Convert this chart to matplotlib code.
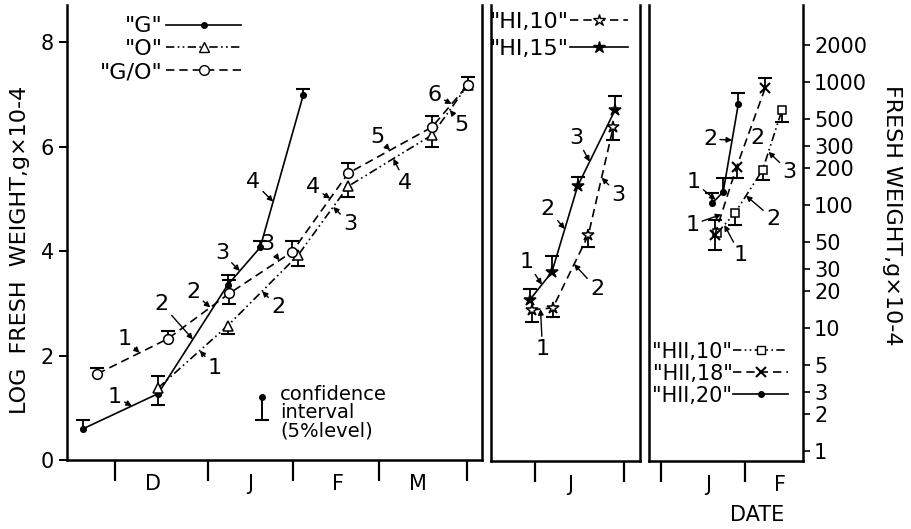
import numpy as np
import matplotlib
matplotlib.use("Agg")
from matplotlib import pyplot as plt
from matplotlib.lines import Line2D
from matplotlib.ticker import NullLocator

# ---- left panel: log fresh weight (linear axis), months counted from 1 Dec
month_bounds = [0, 1.06, 2.02, 3.0, 4.0]
month_label_pos = [0.43, 1.53, 2.53, 3.44]
month_labels = ["D", "J", "F", "M"]

g_x = [-0.36, 0.49, 1.28, 1.65, 2.14]
g_y = [0.60, 1.27, 3.35, 4.07, 6.99]
g_lo = [0.60, 1.06, 3.35, 4.07, 6.99]
g_hi = [0.77, 1.27, 3.55, 4.20, 7.10]

o_x = [0.49, 1.28, 2.08, 2.65, 3.60, 4.01]
o_y = [1.38, 2.57, 3.92, 5.24, 6.22, 7.18]
o_lo = [1.38, 2.42, 3.72, 5.03, 6.00, 7.18]
o_hi = [1.61, 2.57, 3.92, 5.24, 6.22, 7.18]

go_x = [-0.20, 0.60, 1.30, 2.01, 2.65, 3.60, 4.01]
go_y = [1.65, 2.32, 3.19, 3.98, 5.49, 6.37, 7.18]
go_lo = [1.65, 2.32, 2.99, 3.98, 5.49, 6.37, 7.18]
go_hi = [1.77, 2.47, 3.45, 4.20, 5.68, 6.58, 7.33]

# ---- middle panel (HI), months counted from 1 Jan, fresh weight g x 10-4
mid_bounds = [0, 1.0]
mid_label_pos = [0.39]
mid_labels = ["J"]

hi15_x = [-0.06, 0.19, 0.48, 0.90]
hi15_y = [16.8, 28.4, 142, 588]
hi15_lo = [16.8, 28.4, 142, 588]
hi15_hi = [20.7, 38.3, 168, 764]

hi10_x = [-0.03, 0.20, 0.60, 0.88]
hi10_y = [14.0, 14.5, 56.8, 428]
hi10_lo = [11.2, 12.3, 45.4, 338]
hi10_hi = [14.0, 14.5, 56.8, 428]

# ---- right panel (HII)
right_bounds = [0, 1.0]
right_label_pos = [0.56, 1.42]
right_labels = ["J", "F"]

h20_x = [0.61, 0.74, 0.92]
h20_y = [103, 127, 657]
h20_lo = [103, 127, 657]
h20_hi = [124, 165, 808]

h18_x = [0.64, 0.90, 1.24]
h18_y = [56.8, 203, 887]
h18_lo = [43, 164, 887]
h18_hi = [75, 203, 1064]

h10_x = [0.67, 0.88, 1.21, 1.44]
h10_y = [58.9, 85.7, 192, 588]
h10_lo = [58.9, 69, 159, 470]
h10_hi = [58.9, 85.7, 192, 588]

log_ticks = [1, 2, 3, 5, 10, 20, 30, 50, 100, 200, 300, 500, 1000, 2000]

# segment number labels: (segment, fraction along it, text dx, text dy in px, arrow)
g_marks = [(1, 0.65, -17, -11, True), (2, 0.5, -31, -37, True),
           (3, 0.375, -18, -20, True), (4, 0.3, -20, -22, True)]
go_marks = [(1, 0.6, -15, -16, True), (2, 0.69, -17, -17, True),
            (3, 0.8, -12, -18, True), (4, 0.68, -17, -13, True),
            (5, 0.5, -13, -15, True), (6, 0.55, -17, -11, True)]
o_marks = [(1, 0.6, 15, 15, True), (2, 0.49, 16, 14, True),
           (3, 0.7, 17, 15, True), (4, 0.54, 12, 22, True),
           (5, 0.5, 12, 13, True)]
hi15_marks = [(1, 0.55, -15, -25, True), (2, 0.5, -17, -22, True),
              (3, 0.32, -13, -26, True)]
hi10_marks = [(1, 0.4, 2, 38, True), (2, 0.6, 23, 23, True),
              (3, 0.53, 17, 15, True)]
h20_marks = [(1, 0.3, -22, -20, True), (2, 0.59, -22, -3, True)]
h18_marks = [(1, 0.3, -29, 8, True), (2, 0.45, 8, 5, False)]
h10_marks = [(1, 0.4, 16, 28, True), (2, 0.4, 27, 21, True),
             (3, 0.3, 21, 18, True)]

PX = 0.72  # points per pixel at dpi 100


def draw_series(ax, x, y, lo, hi, ls, marker, ms, filled, lw=1.2, mew=1.1):
    x = np.array(x); y = np.array(y); lo = np.array(lo); hi = np.array(hi)
    ax.vlines(x, lo, hi, colors="k", lw=1.3, zorder=2)
    up = hi > y
    dn = lo < y
    ax.plot(x[up], hi[up], ls="none", marker="_", ms=10, mew=1.5, color="k", zorder=2)
    ax.plot(x[dn], lo[dn], ls="none", marker="_", ms=10, mew=1.5, color="k", zorder=2)
    ax.plot(x, y, color="k", ls=ls, lw=lw, marker=marker, ms=ms,
            mfc="k" if filled else "white", mec="k", mew=mew, zorder=3)


def label_segments(ax, xs, ys, marks, log=False, size=16):
    for seg, t, dx, dy, arrow in marks:
        x0, x1 = xs[seg - 1], xs[seg]
        y0, y1 = ys[seg - 1], ys[seg]
        x = x0 + t * (x1 - x0)
        if log:
            y = 10 ** (np.log10(y0) + t * (np.log10(y1) - np.log10(y0)))
        else:
            y = y0 + t * (y1 - y0)
        props = None
        if arrow:
            props = dict(arrowstyle="-|>", color="k", lw=1.0,
                         mutation_scale=8, shrinkA=0, shrinkB=0)
        ax.annotate(str(seg), (x, y), xytext=(dx * PX, -dy * PX),
                    textcoords="offset points", ha="center",
                    va="center_baseline", fontsize=size, arrowprops=props)


def month_axis(ax, bounds, pos, labels):
    ax.set_xticks(bounds, [""] * len(bounds))
    ax.set_xticks(pos, labels, minor=True)
    ax.tick_params(axis="x", which="major", direction="out", length=15, width=1.6)
    ax.tick_params(axis="x", which="minor", length=0, pad=10, labelsize=15)
    for side in ["left", "right", "bottom"]:
        ax.spines[side].set_linewidth(1.8)
    ax.spines["top"].set_visible(False)


fig = plt.figure(figsize=(9.11, 5.29), dpi=100)
ax1 = fig.add_axes([67 / 911, 69 / 529, 415 / 911, 455 / 529])
ax2 = fig.add_axes([491 / 911, 68 / 529, 149 / 911, 456 / 529])
ax3 = fig.add_axes([649 / 911, 68 / 529, 154 / 911, 456 / 529])

dash = (0, (5, 3))
dash_dot2 = (0, (5, 2, 1, 2, 1, 2))

# left panel
draw_series(ax1, g_x, g_y, g_lo, g_hi, "-", "o", 4, True)
draw_series(ax1, o_x, o_y, o_lo, o_hi, dash_dot2, "^", 7, False)
draw_series(ax1, go_x, go_y, go_lo, go_hi, dash, "o", 7, False)
label_segments(ax1, g_x, g_y, g_marks)
label_segments(ax1, go_x, go_y, go_marks)
label_segments(ax1, o_x, o_y, o_marks)
ax1.set_xlim(-0.545, 4.17)
ax1.set_ylim(0, 8.71)
ax1.set_yticks([0, 2, 4, 6, 8])
ax1.tick_params(axis="y", direction="out", length=6, width=1.4, labelsize=15)
month_axis(ax1, month_bounds, month_label_pos, month_labels)

h_g = Line2D([], [], color="k", lw=1.2, marker="o", ms=4)
h_o = Line2D([], [], color="k", lw=1.2, ls=dash_dot2, marker="^", ms=7, mfc="white")
h_go = Line2D([], [], color="k", lw=1.2, ls=dash, marker="o", ms=7, mfc="white")
ax1.legend([h_g, h_o, h_go], ['"G"', '"O"', '"G/O"'], loc="upper right",
           bbox_to_anchor=(0.42, 0.975), frameon=False, markerfirst=False,
           handlelength=3.4, handletextpad=0.15, labelspacing=0.13,
           fontsize=16, borderpad=0, borderaxespad=0)

# confidence interval key
ax1.plot([0.47, 0.47], [0.139, 0.088], color="k", lw=1.4, transform=ax1.transAxes)
ax1.plot([0.47], [0.139], marker="o", ms=4, color="k", transform=ax1.transAxes)
ax1.plot([0.47], [0.088], marker="_", ms=10, mew=1.5, color="k", transform=ax1.transAxes)
ax1.text(0.513, 0.165, "confidence\ninterval\n(5%level)", transform=ax1.transAxes,
         ha="left", va="top", fontsize=14, linespacing=0.95)

# middle panel
draw_series(ax2, hi10_x, hi10_y, hi10_lo, hi10_hi, dash, "*", 9, False)
draw_series(ax2, hi15_x, hi15_y, hi15_lo, hi15_hi, "-", "*", 9, True)
label_segments(ax2, hi15_x, hi15_y, hi15_marks, log=True)
label_segments(ax2, hi10_x, hi10_y, hi10_marks, log=True)
ax2.set_yscale("log")
ax2.set_xlim(-0.494, 1.18)
ax2.set_ylim(0.828, 4190)
ax2.set_yticks([])
ax2.yaxis.set_minor_locator(NullLocator())
month_axis(ax2, mid_bounds, mid_label_pos, mid_labels)

h_hi10 = Line2D([], [], color="k", lw=1.2, ls=dash, marker="*", ms=9, mfc="white")
h_hi15 = Line2D([], [], color="k", lw=1.2, marker="*", ms=9)
ax2.legend([h_hi10, h_hi15], ['"HI,10"', '"HI,15"'], loc="upper right",
           bbox_to_anchor=(0.92, 0.985), frameon=False, markerfirst=False,
           handlelength=2.6, handletextpad=0.05, labelspacing=0.3,
           fontsize=16, borderpad=0, borderaxespad=0)

# right panel
draw_series(ax3, h10_x, h10_y, h10_lo, h10_hi, dash_dot2, "s", 6, False)
draw_series(ax3, h18_x, h18_y, h18_lo, h18_hi, dash, "x", 7, True, mew=1.5)
draw_series(ax3, h20_x, h20_y, h20_lo, h20_hi, "-", "o", 4, True)
label_segments(ax3, h20_x, h20_y, h20_marks, log=True)
label_segments(ax3, h18_x, h18_y, h18_marks, log=True)
label_segments(ax3, h10_x, h10_y, h10_marks, log=True)
ax3.set_yscale("log")
ax3.set_xlim(-0.143, 1.69)
ax3.set_ylim(0.828, 4190)
ax3.yaxis.tick_right()
ax3.set_yticks(log_ticks, [str(v) for v in log_ticks])
ax3.yaxis.set_minor_locator(NullLocator())
ax3.tick_params(axis="y", direction="out", length=5, width=1.2, labelsize=15, pad=3)
month_axis(ax3, right_bounds, right_label_pos, right_labels)

h_h10 = Line2D([], [], color="k", lw=1.2, ls=dash_dot2, marker="s", ms=6, mfc="white")
h_h18 = Line2D([], [], color="k", lw=1.2, ls=dash, marker="x", ms=7, mew=1.5)
h_h20 = Line2D([], [], color="k", lw=1.2, marker="o", ms=4)
ax3.legend([h_h10, h_h18, h_h20], ['"HII,10"', '"HII,18"', '"HII,20"'],
           loc="upper right", bbox_to_anchor=(0.90, 0.262), frameon=False,
           markerfirst=False, handlelength=2.6, handletextpad=0.05,
           labelspacing=0.1, fontsize=15, borderpad=0, borderaxespad=0)

fig.text(0.022, 0.527, "LOG  FRESH  WEIGHT,g×10-4", rotation=90,
         ha="center", va="center", fontsize=16)
fig.text(0.979, 0.594, "FRESH WEIGHT,g×10-4", rotation=270,
         ha="center", va="center", fontsize=16)
fig.text(0.831, 0.026, "DATE", ha="center", va="center", fontsize=15)

fig.savefig("out.png", dpi=100)
